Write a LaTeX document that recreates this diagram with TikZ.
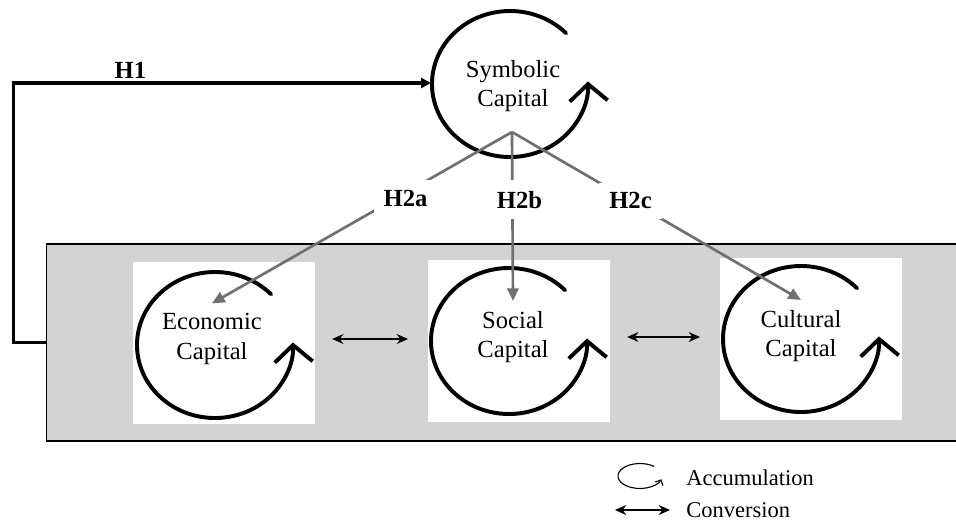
\documentclass[tikz,border=0pt]{standalone}
\usepackage{fontspec}
\setmainfont{Liberation Serif}
\usetikzlibrary{arrows.meta}
\definecolor{panelgray}{RGB}{211,211,211}
\definecolor{linkgray}{RGB}{112,112,112}
\begin{document}
\begin{tikzpicture}[x=0.025cm, y=0.025cm,
    panel/.style={fill=panelgray, minimum width=24cm, minimum height=4.92cm},
    capbox/.style={fill=white, minimum width=4.55cm, minimum height=4.07cm},
    captext/.style={align=center, inner sep=7pt, font=\fontsize{17.5}{21}\selectfont},
    cyc/.style={line width=2.8pt, line cap=round, -{Straight Barb[length=12pt, width=27pt]}},
    accum/.pic={\draw[cyc] (44:78 and 73) arc[start angle=44, end angle=362, x radius=78, y radius=73];},
    hyp/.style={font=\fontsize{17.5}{21}\selectfont\bfseries},
    link/.style={draw=linkgray, line width=1.9pt, -{Triangle[length=9pt, width=8pt]}},
    conv/.style={line width=1.4pt, {Stealth[length=8pt, width=7pt]}-{Stealth[length=8pt, width=7pt]}},
    legend/.style={anchor=west, inner sep=0pt, font=\fontsize{16}{19}\selectfont}]
    \useasboundingbox (0,0) rectangle (956,-522);
    \clip (0,0) rectangle (956,-522);
    % capitals
    \node[panel] (panel) at (527,-342.5) {};
    \draw[line width=1.2pt] (panel.north east) -- (panel.north west) -- (panel.south west) -- (panel.south east);
    \node[capbox] (econbox) at (224,-343) {};
    \node[capbox] (socbox) at (519,-341) {};
    \node[capbox] (cultbox) at (811,-339) {};
    \pic at (510,-84) {accum};
    \pic at (215,-345) {accum};
    \pic at (509,-341) {accum};
    \pic at (801,-339) {accum};
    \node[captext] (sym) at (513,-86) {Symbolic\\Capital};
    \node[captext] (econ) at (212,-339) {Economic\\Capital};
    \node[captext] (soc) at (513,-337) {Social\\Capital};
    \node[captext] (cult) at (801,-336) {Cultural\\Capital};
    \coordinate (symL) at (431,-83);
    \coordinate (apex) at (512,-132);
    % hypotheses
    \draw[line width=2.2pt, -{Triangle[length=7pt, width=7pt]}] (panel.west) -- ++(-33,0) |- (symL) node[hyp, pos=.64, above, inner sep=2pt] {H1};
    \draw[link] (apex) -- (econ.north) node[hyp, pos=.355, yshift=-4pt, fill=white, inner sep=7pt] {H2a};
    \draw[link] (apex) -- (soc.north) node[hyp, pos=.4, xshift=5pt, fill=white, inner sep=8pt] {H2b};
    \draw[link] (apex) -- (cult.north) node[hyp, pos=.41, fill=white, inner sep=7pt] {H2c};
    % conversion
    \draw[conv, shorten <=12pt, shorten >=14pt] (econbox.east |- econ) -- (socbox.west |- econ);
    \draw[conv, shorten <=12pt, shorten >=14pt] (socbox.east |- soc) -- (cultbox.west |- soc);
    % legend
    \draw[line width=0.8pt, -{Straight Barb[length=3pt, width=6pt]}] (640,-476) ++(50:22 and 12.5) arc[start angle=50, end angle=345, x radius=22, y radius=12.5];
    \node[legend] (acc) at (686,-478) {Accumulation};
    \coordinate (convL) at (615,-510);
    \draw[conv] (convL) -- ++(55,0);
    \node[legend] (con) at (686,-510) {Conversion};
\end{tikzpicture}
\end{document}
